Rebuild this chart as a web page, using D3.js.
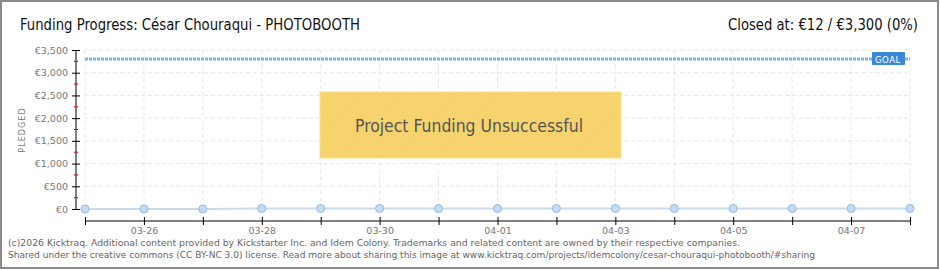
<!DOCTYPE html>
<html lang="en">
<head>
<meta charset="UTF-8">
<title>Funding Progress</title>
<style>
  body { margin: 0; background: #fff; }
  svg { display: block; font-family: "DejaVu Sans Condensed", "DejaVu Sans", sans-serif; }
</style>
</head>
<body>
<div id="chart"></div>
<script src="https://d3js.org/d3.v7.min.js"></script>
<script>
// Dati
const dates = ["03-25","03-26","03-27","03-28","03-29","03-30","03-31","04-01","04-02","04-03","04-04","04-05","04-06","04-07","04-08"];
const pledged = [0, 0, 0, 12, 12, 12, 12, 12, 12, 12, 12, 12, 12, 12, 12];
const yTicks = [0, 500, 1000, 1500, 2000, 2500, 3000, 3500];
const xLabels = ["03-26","03-28","03-30","04-01","04-03","04-05","04-07"];
const goal = 3300;

const width = 940, height = 270;
const plotLeft = 85, plotRight = 910, plotTop = 50, plotBottom = 209;

const svg = d3.select("#chart").append("svg")
  .attr("width", width).attr("height", height);

// bordo
svg.append("rect")
  .attr("x", 1).attr("y", 1).attr("width", width - 3).attr("height", height - 3)
  .attr("fill", "#fff").attr("stroke", "#8a8a8a").attr("stroke-width", 2);

const x = d3.scalePoint().domain(dates).range([plotLeft, plotRight]);
const y = d3.scaleLinear().domain([0, 3500]).range([plotBottom, plotTop]);

// griglia
svg.append("g").selectAll("line").data(yTicks.slice(1)).join("line")
  .attr("x1", plotLeft).attr("x2", plotRight)
  .attr("y1", d => y(d)).attr("y2", d => y(d))
  .attr("stroke", "#e6e6e6").attr("stroke-dasharray", "4,3");
svg.append("g").selectAll("line").data(dates).join("line")
  .attr("x1", d => x(d)).attr("x2", d => x(d))
  .attr("y1", plotTop).attr("y2", plotBottom)
  .attr("stroke", "#e6e6e6").attr("stroke-dasharray", "4,3");

// asse y
const yAxis = svg.append("g").attr("transform", "translate(76,0)")
  .call(d3.axisLeft(y).tickValues(yTicks).tickSize(4).tickPadding(4)
    .tickFormat(d => "€" + d3.format(",")(d)));
yAxis.select(".domain").attr("stroke", "#000").attr("d", `M0,${plotTop}V${plotBottom + 1}`);
yAxis.selectAll(".tick line").attr("stroke", "#000").attr("x2", 4).attr("x1", -4);
yAxis.selectAll(".tick text").attr("fill", "#777").style("font-size", "9.5px")
  .style("font-family", "'DejaVu Sans', sans-serif");
// tacche rosse intermedie
yAxis.append("g").selectAll("line").data(yTicks.slice(0, -1).map(d => d + 250)).join("line")
  .attr("x1", -2).attr("x2", 2).attr("y1", d => y(d)).attr("y2", d => y(d))
  .attr("stroke", "#d00");

svg.append("text")
  .attr("transform", "translate(25,130) rotate(-90)")
  .attr("text-anchor", "middle")
  .attr("fill", "#777").style("font-size", "9px").style("letter-spacing", "1px")
  .text("PLEDGED");

// asse x
const xAxis = svg.append("g").attr("transform", "translate(0,221)")
  .call(d3.axisBottom(x).tickSize(4).tickPadding(2)
    .tickFormat(d => xLabels.includes(d) ? d : ""));
xAxis.select(".domain").attr("stroke", "#000").attr("d", `M${plotLeft},0H${plotRight}`);
xAxis.selectAll(".tick line").attr("stroke", "#000").attr("y1", -4).attr("y2", 4);
xAxis.selectAll(".tick text").attr("fill", "#777").style("font-size", "9.5px")
  .style("font-family", "'DejaVu Sans', sans-serif");

// linea obiettivo
svg.append("line")
  .attr("x1", plotLeft).attr("x2", plotRight)
  .attr("y1", y(goal)).attr("y2", y(goal))
  .attr("stroke", "#7fb2ea").attr("stroke-width", 3).attr("stroke-dasharray", "3,1");
svg.append("rect")
  .attr("x", 872).attr("y", y(goal) - 7).attr("width", 33).attr("height", 13).attr("rx", 1)
  .attr("fill", "#3a86d8");
svg.append("text")
  .attr("x", 875).attr("y", y(goal) + 3.5)
  .attr("fill", "#fff").style("font-size", "9.5px").style("letter-spacing", "0.5px")
  .text("GOAL");

// serie
svg.append("path").datum(pledged)
  .attr("d", d3.line().x((d, i) => x(dates[i])).y(d => y(d)))
  .attr("fill", "none").attr("stroke", "#c7daef").attr("stroke-width", 2);
svg.append("g").selectAll("circle").data(pledged).join("circle")
  .attr("cx", (d, i) => x(dates[i])).attr("cy", d => y(d)).attr("r", 4)
  .attr("fill", "#c3dcf7").attr("stroke", "#96b8dd").attr("stroke-width", 1);

// riquadro "non finanziato"
const defs = svg.append("defs");
const pat = defs.append("pattern").attr("id", "hatch")
  .attr("width", 4).attr("height", 4).attr("patternUnits", "userSpaceOnUse")
  .attr("patternTransform", "rotate(45)");
pat.append("rect").attr("width", 4).attr("height", 4).attr("fill", "#f7d46f");
pat.append("line").attr("x1", 0).attr("y1", 0).attr("x2", 0).attr("y2", 4)
  .attr("stroke", "#f2cc62").attr("stroke-width", 1);
svg.append("rect")
  .attr("x", 320).attr("y", 92).attr("width", 301).attr("height", 66)
  .attr("fill", "url(#hatch)").attr("stroke", "#fae08a").attr("stroke-width", 1);
svg.append("text")
  .attr("x", 469).attr("y", 132).attr("text-anchor", "middle")
  .attr("fill", "#555").style("font-size", "17px")
  .attr("textLength", 228).attr("lengthAdjust", "spacingAndGlyphs")
  .text("Project Funding Unsuccessful");

// titoli
svg.append("text").attr("x", 20).attr("y", 30)
  .attr("fill", "#111").style("font-size", "15px")
  .attr("textLength", 340).attr("lengthAdjust", "spacingAndGlyphs")
  .text("Funding Progress: César Chouraqui - PHOTOBOOTH");
svg.append("text").attr("x", 918).attr("y", 30).attr("text-anchor", "end")
  .attr("fill", "#111").style("font-size", "15px")
  .attr("textLength", 190).attr("lengthAdjust", "spacingAndGlyphs")
  .text("Closed at: €12 / €3,300 (0%)");

// piè di pagina
const foot = svg.append("g").attr("fill", "#666").style("font-size", "9.5px")
  .style("font-family", "'DejaVu Sans', sans-serif");
foot.append("text").attr("x", 8).attr("y", 246)
  .attr("textLength", 732).attr("lengthAdjust", "spacingAndGlyphs")
  .text("(c)2026 Kicktraq. Additional content provided by Kickstarter Inc. and Idem Colony. Trademarks and related content are owned by their respective companies.");
foot.append("text").attr("x", 8).attr("y", 258)
  .attr("textLength", 807).attr("lengthAdjust", "spacingAndGlyphs")
  .text("Shared under the creative commons (CC BY-NC 3.0) license. Read more about sharing this image at www.kicktraq.com/projects/idemcolony/cesar-chouraqui-photobooth/#sharing");
</script>
</body>
</html>
